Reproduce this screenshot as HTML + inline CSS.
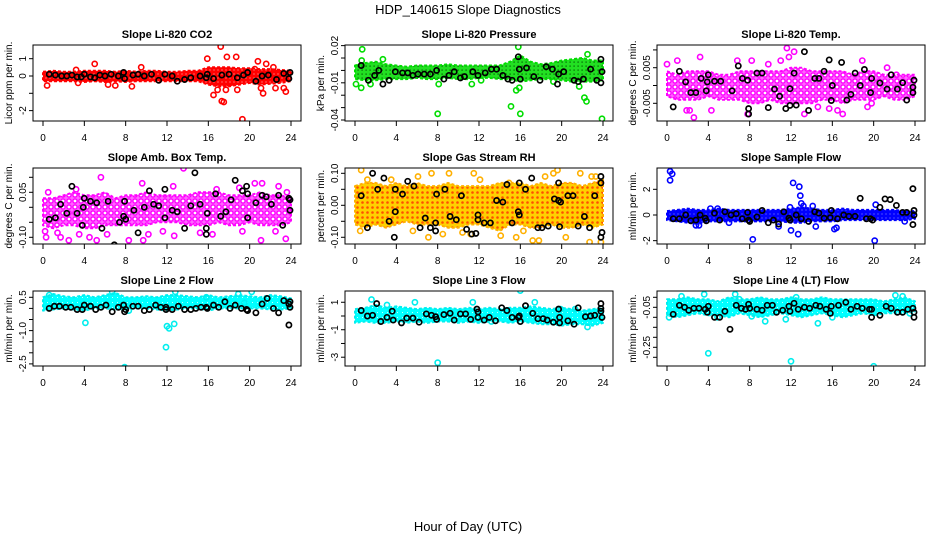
<!DOCTYPE html>
<html><head><meta charset="utf-8"><style>
html,body{margin:0;padding:0;background:#fff;}
svg{display:block;font-family:"Liberation Sans",Arial,sans-serif;}
</style></head><body>
<svg id="chart" width="936" height="540" viewBox="0 0 936 540" xmlns="http://www.w3.org/2000/svg">
<defs>
<pattern id="pat-red" width="4" height="4" patternUnits="userSpaceOnUse"><rect width="4" height="4" fill="#ff0000"/><rect x="1.5" y="1.5" width="1" height="1" fill="#ffc0c0"/></pattern>
<pattern id="pat-green" width="4" height="4" patternUnits="userSpaceOnUse"><rect width="4" height="4" fill="#22e022"/><rect x="1.5" y="1.5" width="1.2" height="1.2" fill="#005500"/></pattern>
<pattern id="pat-magenta" width="6" height="6" patternUnits="userSpaceOnUse"><rect width="6" height="6" fill="#ff66ff"/><circle cx="3" cy="3" r="2.1" fill="#fff" stroke="#ff00ff" stroke-width="1.4"/></pattern>
<pattern id="pat-orange" width="5" height="5" patternUnits="userSpaceOnUse"><rect width="5" height="5" fill="#ffd000"/><circle cx="2.5" cy="2.5" r="1.3" fill="#ff5000"/></pattern>
<pattern id="pat-blue" width="4" height="4" patternUnits="userSpaceOnUse"><rect width="4" height="4" fill="#0000ff"/><rect x="1.5" y="1.5" width="1" height="1" fill="#9090ff"/></pattern>
<pattern id="pat-cyan" width="5" height="5" patternUnits="userSpaceOnUse"><rect width="5" height="5" fill="#00ffff"/><rect x="2" y="2" width="1" height="1" fill="#c0ffff"/></pattern>
</defs>
<rect x="0" y="0" width="936" height="540" fill="#fff"/>
<text x="468" y="14" text-anchor="middle" font-size="13">HDP_140615  Slope Diagnostics</text>
<text x="468" y="531" text-anchor="middle" font-size="13">Hour of Day (UTC)</text>
</svg>
<script>
const hours = [0,1,2,3,4,5,6,7,8,9,10,11,12,13,14,15,16,17,18,19,20,21,22,23,24];
const xTicks = [0,4,8,12,16,20,24];
const xTickLabels = ["0","4","8","12","16","20","24"];

const co2Lo = [-0.3,-0.3,-0.3,-0.3,-0.35,-0.3,-0.35,-0.3,-0.35,-0.3,-0.3,-0.3,-0.3,-0.3,-0.3,-0.3,-0.5,-0.6,-0.6,-0.5,-0.4,-0.5,-0.45,-0.4,-0.3];
const co2Hi = [0.25,0.3,0.25,0.25,0.3,0.3,0.3,0.25,0.3,0.25,0.3,0.3,0.25,0.25,0.3,0.3,0.5,0.5,0.5,0.45,0.45,0.4,0.4,0.35,0.3];
const co2Out = [[0.4,-0.55],[3.2,0.35],[3.4,-0.4],[5,0.7],[6.3,-0.5],[7,-0.55],[8.6,-0.6],[9.5,0.5],[15.9,1.0],[16.5,-1.1],[17.2,1.7],[17.5,-1.5],[17.3,-1.45],[17.8,1.1],[18.7,1.1],[18.8,-0.8],[19.3,-2.5],[20.8,0.85],[21.3,-1.0],[21.6,0.7],[22.5,-0.7],[23.3,-0.7],[23.5,-0.9],[16.9,-0.8],[17.7,-0.8],[21.1,-0.7],[20.5,0.4],[22.3,0.5]];
const co2Black = [[0.6,0.1],[1.2,0.05],[1.8,0],[2.3,0],[2.8,0.05],[3.3,-0.05],[3.7,-0.05],[4,0.1],[4.6,-0.05],[5,-0.1],[5.5,0.05],[6,0],[6.6,0.1],[7.3,0],[7.8,0.2],[7.9,-0.15],[8.7,0.05],[9.2,0.1],[9.8,0],[10.5,0.1],[11.2,-0.25],[11.8,0.1],[12.5,0],[13,-0.3],[13.7,-0.2],[14.3,-0.1],[15.2,0],[15.8,-0.1],[15.9,0.1],[16.5,-0.15],[17.3,0.05],[18,0.1],[18.8,-0.1],[19.4,0.05],[19.8,0.2],[20.6,-0.3],[21.2,0],[21.8,0.05],[22.6,-0.2],[23.3,0.15],[23.9,0.2],[23.8,-0.15]];

const presLo = [-0.007,-0.008,-0.008,-0.007,-0.007,-0.007,-0.006,-0.007,-0.007,-0.006,-0.007,-0.007,-0.006,-0.006,-0.007,-0.007,-0.009,-0.008,-0.007,-0.007,-0.008,-0.009,-0.009,-0.009,-0.008];
const presHi = [0.004,0.006,0.007,0.005,0.004,0.003,0.004,0.004,0.004,0.005,0.004,0.004,0.004,0.004,0.004,0.007,0.012,0.007,0.005,0.006,0.008,0.009,0.01,0.008,0.008];
const presOut = [[0.1,-0.011],[0.6,-0.014],[0.7,0.017],[0.65,0.008],[1.5,-0.011],[2.7,0.009],[8,-0.035],[8.1,-0.011],[11.3,-0.011],[15.1,-0.029],[15.8,0.019],[15.6,-0.016],[16,-0.035],[15.9,-0.014],[22.2,-0.022],[22.4,-0.025],[22.5,0.013],[21.7,-0.013],[23.9,-0.039],[19.2,-0.009],[12.2,-0.008]];
const presBlack = [[0.6,0.004],[1.3,-0.008],[1.9,-0.004],[2.3,0],[2.7,-0.011],[3.3,-0.008],[3.9,-0.001],[4.6,-0.002],[5.1,-0.002],[5.6,-0.004],[6.1,-0.003],[6.7,-0.003],[7.3,-0.003],[7.9,0],[8.6,-0.007],[9.1,-0.004],[9.6,-0.001],[10.2,-0.006],[10.6,-0.005],[11.4,-0.001],[11.9,-0.004],[12.6,-0.002],[13.2,0.001],[13.7,0.001],[14.3,-0.004],[14.8,-0.007],[15.2,-0.008],[15.8,0.011],[15.9,0.001],[16,-0.007],[16.6,0.002],[17.3,-0.005],[17.9,-0.008],[18.5,0.003],[19.1,0.001],[19.6,-0.011],[19.7,-0.003],[20.2,-0.001],[21.2,-0.008],[21.6,-0.009],[22.1,-0.007],[22.8,0.001],[23.4,-0.008],[23.8,-0.01],[23.9,-0.001],[23.8,0.009]];

const tempLo = [-0.003,-0.004,-0.004,-0.004,-0.003,-0.004,-0.004,-0.004,-0.005,-0.005,-0.004,-0.005,-0.005,-0.005,-0.005,-0.004,-0.004,-0.005,-0.004,-0.004,-0.004,-0.003,-0.004,-0.004,-0.003];
const tempHi = [0.004,0.003,0.004,0.004,0.004,0.003,0.003,0.004,0.004,0.004,0.004,0.004,0.005,0.005,0.004,0.004,0.004,0.004,0.003,0.004,0.004,0.003,0.003,0.003,0.003];
const tempOut = [[0,0.006],[1,0.007],[1.9,-0.007],[2.2,-0.007],[2.6,-0.009],[3.2,0.008],[4.3,-0.007],[6.8,0.007],[8.2,0.007],[7.8,-0.008],[9.8,0.006],[11,0.007],[11.6,0.0105],[12.3,0.0095],[11.8,0.008],[13.3,-0.008],[15.7,-0.0065],[16.5,-0.007],[17,-0.008],[18.9,0.007],[19.4,-0.006],[19.8,-0.005],[21.3,0.005],[22.2,0.003],[14.6,-0.006]];
const tempBlack = [[0.6,-0.006],[1.2,0.004],[1.8,0.001],[2.3,-0.002],[2.8,-0.002],[3.3,0.002],[3.8,-0.0015],[3.9,0.001],[4.0,0.003],[4.6,0.0012],[5.2,0.0012],[6.3,-0.0015],[6.9,0.0055],[7.3,0.002],[7.8,0.0015],[7.9,-0.0065],[7.9,-0.008],[8.7,0.0035],[9.2,0.0035],[9.8,-0.0062],[10.4,-0.001],[10.9,-0.003],[11.5,-0.0065],[11.9,-0.0056],[11.9,-0.0009],[12.5,-0.0055],[12.3,0.0035],[13.3,0.0095],[13.7,-0.007],[14.3,0.002],[14.7,0.002],[15.2,0.004],[15.8,-0.0115],[15.9,-0.0042],[15.7,0.0072],[16.0,0],[16.9,0.0065],[17.4,-0.0041],[17.8,-0.0025],[18.2,0.0035],[18.7,0],[19.1,0.0045],[19.7,-0.002],[19.8,0.002],[20.6,0.0007],[21.3,-0.001],[21.7,0.003],[22.3,-0.001],[22.8,0.0008],[23.2,-0.0041],[23.8,-0.002],[23.9,0.0015],[23.8,-0.0005]];

const ambLo = [-0.06,-0.07,-0.06,-0.06,-0.07,-0.07,-0.06,-0.06,-0.06,-0.06,-0.06,-0.05,-0.05,-0.05,-0.06,-0.06,-0.06,-0.05,-0.06,-0.06,-0.05,-0.06,-0.06,-0.06,-0.05];
const ambHi = [0.03,0.03,0.04,0.05,0.04,0.04,0.05,0.03,0.04,0.04,0.05,0.04,0.04,0.04,0.04,0.05,0.05,0.05,0.04,0.04,0.04,0.05,0.04,0.04,0.03];
const ambOut = [[0.2,-0.08],[0.3,-0.1],[0.5,0.05],[1.4,-0.085],[1.7,-0.1],[2.5,-0.11],[3.2,0.06],[3.5,-0.09],[4.5,-0.1],[5.2,-0.11],[5.6,0.1],[6.2,-0.09],[7.2,-0.135],[8.3,-0.11],[9.7,-0.11],[9.6,0.08],[10.2,-0.09],[11.6,-0.08],[12.6,0.07],[12.7,-0.095],[13.6,0.13],[15.2,-0.085],[16.4,-0.09],[16.8,0.06],[19.3,-0.08],[20.5,0.08],[21.1,-0.11],[21.2,0.08],[21.4,-0.14],[22.5,-0.08],[22.8,0.07],[23.5,-0.105],[23.6,0.05],[19,0.065]];
const ambBlack = [[0.6,-0.04],[1.2,-0.035],[1.7,0.01],[2.3,-0.02],[2.8,0.07],[3.3,-0.02],[3.8,-0.06],[3.9,0],[4.0,0.03],[4.6,0.02],[5.2,0.015],[5.7,-0.07],[6.3,0.02],[6.9,-0.125],[7.4,-0.05],[7.8,-0.03],[7.9,0.02],[8,-0.04],[8.8,-0.01],[9.2,-0.085],[9.8,0],[10.3,0.055],[10.7,0.01],[11.2,0.005],[11.8,0.06],[11.8,-0.035],[12.5,-0.01],[13,-0.015],[13.7,-0.07],[14.3,0.005],[14.7,0.115],[15.2,0.01],[15.8,-0.07],[15.9,-0.02],[15.8,-0.09],[16.7,0.045],[17.2,-0.03],[17.7,-0.015],[18.2,0.025],[18.6,0.09],[19.3,0.055],[19.7,0.07],[19.8,0.045],[19.8,-0.035],[20.6,0.015],[21.2,0.04],[21.6,0.035],[22.1,0.01],[22.8,0.04],[23.2,-0.06],[23.8,0.03],[23.9,-0.01],[23.9,0.025]];

const rhLo = [-0.06,-0.07,-0.06,-0.07,-0.06,-0.05,-0.06,-0.06,-0.06,-0.07,-0.07,-0.06,-0.06,-0.07,-0.08,-0.06,-0.06,-0.07,-0.07,-0.06,-0.07,-0.07,-0.06,-0.07,-0.06];
const rhHi = [0.06,0.07,0.07,0.06,0.07,0.06,0.07,0.06,0.06,0.07,0.06,0.06,0.06,0.06,0.07,0.07,0.07,0.06,0.07,0.06,0.07,0.07,0.06,0.07,0.08];
const rhOut = [[0.6,0.11],[0.5,-0.08],[1.2,0.08],[3.5,0.08],[5.6,-0.08],[6.1,0.09],[7.1,-0.1],[7.4,0.1],[8.5,-0.09],[9.1,0.1],[10.4,-0.085],[11.2,-0.09],[11.5,0.1],[12.1,0.08],[14.1,-0.095],[14.9,0.07],[15.6,-0.1],[16.3,-0.08],[17.2,-0.11],[17.8,-0.11],[18.4,0.09],[19.2,0.1],[19.6,0.11],[20.4,-0.1],[21.8,0.1],[22.7,-0.115],[22.9,0.09],[23.3,0.09],[23.8,-0.115]];
const rhBlack = [[0.6,0.03],[1.2,-0.07],[1.7,0.1],[2.2,0.05],[2.8,0.085],[3.3,-0.05],[3.9,-0.02],[3.9,0.05],[3.8,-0.1],[4.6,0.035],[5.1,0.075],[5.7,0.06],[6.3,-0.07],[6.8,-0.04],[7.3,-0.07],[7.8,-0.055],[7.8,-0.08],[7.9,0.035],[8.7,0.05],[9.2,-0.035],[9.8,-0.045],[10.3,0.03],[10.8,-0.075],[11.3,-0.09],[11.7,-0.088],[11.9,-0.03],[11.9,-0.045],[12.5,-0.055],[13.1,-0.055],[13.7,0.015],[14.3,0.01],[14.7,0.065],[15.2,-0.055],[15.8,-0.02],[15.9,-0.03],[15.9,0.07],[16.5,0.05],[17.1,0.085],[17.7,-0.07],[18.1,-0.07],[18.7,-0.065],[19.3,0.02],[19.7,0.015],[19.7,0.07],[19.8,-0.067],[19.9,0.01],[20.6,0.03],[21.1,0.03],[21.6,-0.065],[22.2,-0.035],[22.7,-0.07],[23.2,0.03],[23.8,-0.1],[23.9,-0.085],[23.8,0.07],[23.8,0.09]];

const flowLo = [-0.4,-0.5,-0.6,-0.7,-0.5,-0.5,-0.5,-0.5,-0.5,-0.5,-0.5,-0.5,-0.6,-0.6,-0.5,-0.5,-0.5,-0.4,-0.4,-0.4,-0.4,-0.4,-0.4,-0.4,-0.3];
const flowHi = [0.3,0.4,0.5,0.4,0.4,0.5,0.4,0.4,0.4,0.4,0.4,0.4,0.5,0.6,0.5,0.4,0.4,0.5,0.4,0.4,0.4,0.4,0.4,0.3,0.3];
const flowOut = [[0.3,3.4],[0.5,3.2],[0.3,2.7],[2.8,-0.8],[3.1,-0.8],[4.2,0.5],[4.9,0.5],[6,-0.6],[8.3,-1.9],[10.8,-0.9],[11.9,0.6],[12,-1.2],[12.2,2.5],[12.7,-1.5],[12.8,2.2],[12.9,1.5],[13,0.9],[13.2,0.7],[14.1,0.7],[14.4,-0.9],[16.2,-1.1],[16.4,-1],[20.1,-2],[20.2,0.8],[23,-0.5]];
const flowBlack = [[0.6,-0.3],[1.2,-0.3],[1.8,0],[2.3,-0.45],[2.8,-0.4],[3.2,0],[3.7,-0.25],[3.8,-0.45],[4.6,0.15],[5.1,-0.4],[5.6,0.25],[6.2,0],[6.7,0.1],[7.3,-0.3],[7.8,0.2],[7.9,-0.4],[8,-0.5],[8.7,-0.15],[9.2,0.35],[9.8,-0.6],[10.3,-0.4],[10.8,-0.7],[11.3,0.25],[11.8,-0.25],[11.9,-0.4],[12.5,0],[13,-0.3],[13.7,-0.5],[14.3,0.25],[14.7,0.15],[15.2,-0.25],[15.9,0.35],[15.8,-0.2],[16.5,-0.3],[17.1,0],[17.6,-0.1],[18.2,-0.1],[18.7,1.3],[19.3,-0.3],[19.7,-0.3],[19.9,-0.4],[20.6,0.6],[21.1,1.25],[21.6,1.2],[22.2,0.75],[22.8,0.2],[23.2,0.2],[23.8,2.05],[23.8,-0.75],[23.9,0.35],[23.9,0]];

const l2Lo = [-0.1,-0.05,0,-0.05,-0.1,0,0,-0.05,-0.05,0,0,-0.05,-0.1,-0.05,0,0,-0.1,0,0,0,0,0,-0.05,-0.05,0];
const l2Hi = [0.5,0.65,0.55,0.5,0.6,0.5,0.6,0.7,0.5,0.5,0.55,0.5,0.6,0.6,0.55,0.5,0.6,0.5,0.55,0.6,0.55,0.5,0.6,0.55,0.45];
const l2Out = [[0.6,0.6],[4.1,-0.65],[6.7,0.75],[7.9,-2.65],[8.3,-0.1],[11.9,-1.75],[12,-0.8],[12.2,-0.9],[12.7,-0.7],[12.8,0.75],[15.8,0.5],[18.9,0.65],[19.5,0.25],[20.2,0.75]];
const l2Black = [[0.6,0],[1.1,0.1],[1.6,0.1],[2.2,0.05],[2.7,0.05],[3.3,-0.05],[3.8,-0.05],[4.0,0.15],[4.6,0.1],[5.1,-0.05],[5.6,0.05],[6.1,0.15],[6.7,-0.15],[7.3,0.05],[7.8,0.15],[7.9,-0.15],[8,-0.05],[8.7,0.1],[9.2,0.1],[9.8,-0.1],[10.3,-0.05],[10.9,0.15],[11.4,0.05],[11.9,0.05],[11.9,-0.05],[12.5,-0.05],[13.1,0.1],[13.7,-0.05],[14.3,-0.05],[14.8,0],[15.3,0.05],[15.8,0.05],[15.9,0],[16.5,0.15],[17,0.05],[17.6,0.3],[18.1,0],[18.6,0.15],[19.2,0],[19.7,-0.05],[19.8,-0.1],[20.6,-0.2],[21.2,0.2],[21.7,0.45],[22.3,0],[22.8,-0.2],[23.3,0.35],[23.8,-0.75],[23.9,0.3],[23.9,0.05],[23.8,0.2]];

const l3Lo = [-0.5,-0.4,-0.5,-0.5,-0.4,-0.5,-0.4,-0.5,-0.4,-0.4,-0.5,-0.4,-0.5,-0.4,-0.4,-0.5,-0.4,-0.5,-0.6,-0.6,-0.7,-0.6,-0.6,-0.7,-0.5];
const l3Hi = [0.5,0.6,0.8,0.6,0.7,0.6,0.5,0.6,0.5,0.6,0.5,0.6,0.5,0.6,0.5,0.6,0.6,0.7,0.6,0.5,0.6,0.5,0.4,0.5,0.6];
const l3Out = [[1.6,1.2],[3.1,0.8],[5.8,1],[8,-3.4],[11.4,1.0],[16,1.85],[17.4,1.0],[19.9,0.5],[22.5,-0.8],[21.3,0.5],[13.2,-0.4]];
const l3Black = [[0.6,0.4],[1.2,0],[1.7,0.05],[2.1,0.9],[2.5,-0.4],[3.1,-0.1],[3.6,0.35],[3.7,-0.3],[4.5,-0.5],[5,-0.15],[5.6,-0.15],[6.2,-0.45],[6.9,0.15],[7.4,0.05],[7.8,-0.05],[7.9,-0.25],[8.6,0.1],[9.2,0.2],[9.6,-0.3],[10.2,0.15],[10.7,0.15],[11.2,-0.25],[11.8,0.5],[11.9,0.3],[11.9,-0.1],[12.5,-0.3],[13,-0.1],[13.6,-0.35],[14.2,0.6],[14.7,0.4],[15.2,-0.1],[15.8,-0.1],[15.9,0],[16,-0.4],[16.5,0.75],[17.2,0.2],[17.7,-0.2],[18.2,-0.2],[18.6,-0.3],[19.2,-0.45],[19.7,0.5],[19.8,-0.1],[19.8,-0.5],[20.6,-0.35],[21.2,-0.6],[21.6,0.6],[22.3,-0.05],[22.8,0],[23.2,0.05],[23.8,0.9],[23.8,0.55],[23.9,-0.1],[23.8,0.35]];

const l4Lo = [-0.09,-0.1,-0.09,-0.08,-0.09,-0.09,-0.1,-0.08,-0.09,-0.1,-0.09,-0.08,-0.09,-0.1,-0.09,-0.08,-0.09,-0.1,-0.09,-0.08,-0.09,-0.08,-0.08,-0.08,-0.07];
const l4Hi = [-0.01,-0.01,0,-0.01,-0.01,-0.02,0,-0.01,-0.01,0,-0.01,-0.01,0,-0.01,-0.01,0,-0.01,-0.01,-0.01,-0.01,-0.01,-0.02,-0.01,0,-0.02];
const l4Out = [[0.2,-0.1],[1.4,0.005],[3.6,0.015],[4,-0.28],[4.9,-0.1],[6.6,0.015],[7,-0.01],[9.5,-0.12],[11.5,-0.11],[12,-0.32],[12.5,0],[14.6,-0.13],[16,-0.1],[20,-0.345],[22.1,0.01],[22.8,0.005],[23.5,-0.08],[8.2,-0.095]];
const l4Black = [[0.6,-0.085],[1.2,-0.04],[1.7,-0.05],[2.1,-0.065],[2.6,-0.055],[3.1,-0.055],[3.7,-0.06],[3.9,-0.075],[4,-0.045],[4.6,-0.1],[5.1,-0.1],[5.6,-0.07],[6.1,-0.16],[6.7,-0.04],[7.2,-0.055],[7.6,-0.06],[7.9,-0.035],[8,-0.055],[8.7,-0.06],[9.2,-0.065],[9.7,-0.04],[10.2,-0.04],[10.6,-0.075],[11.2,-0.065],[11.8,-0.045],[11.9,-0.07],[12.3,-0.03],[12.7,-0.06],[13.3,-0.05],[13.8,-0.055],[14.4,-0.04],[14.8,-0.045],[15.4,-0.06],[15.8,-0.08],[15.9,-0.045],[16.6,-0.04],[17.3,-0.025],[17.8,-0.06],[18.4,-0.045],[18.9,-0.055],[19.6,-0.06],[19.8,-0.1],[19.8,-0.06],[20.6,-0.09],[21.2,-0.045],[21.7,-0.055],[22.3,-0.075],[22.8,-0.075],[23.3,-0.06],[23.8,-0.055],[23.9,-0.075],[23.9,-0.1]];

const co2YTicks = [-2,-1,0,1];            const co2YLabels = ["-2","","0","1"];
const presYTicks = [-0.04,-0.03,-0.02,-0.01,0,0.01,0.02]; const presYLabels = ["-0.04","","","-0.01","","","0.02"];
const tempYTicks = [-0.005,0,0.005,0.01];  const tempYLabels = ["-0.005","","0.005",""];
const ambYTicks = [-0.1,-0.05,0,0.05,0.1]; const ambYLabels = ["-0.10","","","0.05",""];
const rhYTicks = [-0.1,-0.05,0,0.05,0.1];  const rhYLabels = ["-0.10","","0.00","","0.10"];
const flowYTicks = [-2,0,2];              const flowYLabels = ["-2","0","2"];
const l2YTicks = [-2.5,-2,-1.5,-1,-0.5,0,0.5]; const l2YLabels = ["-2.5","","","-1.0","","","0.5"];
const l3YTicks = [-3,-2,-1,0,1];          const l3YLabels = ["-3","","-1","","1"];
const l4YTicks = [-0.3,-0.25,-0.2,-0.15,-0.1,-0.05,0]; const l4YLabels = ["","-0.25","","","","-0.05",""];

const NS = "http://www.w3.org/2000/svg";
const svg = document.getElementById('chart');
function mk(tag, attrs, parent){ const e=document.createElementNS(NS,tag); for(const k in attrs) e.setAttribute(k,attrs[k]); (parent||svg).appendChild(e); return e; }

const panels = [
 {key:'co2', title:'Slope Li-820 CO2', ylab:'Licor ppm per min.', col:0,row:0, dom:[-2.60,1.79], lo:co2Lo,hi:co2Hi,out:co2Out,blk:co2Black,yt:co2YTicks,yl:co2YLabels, color:'#ff0000', pat:'pat-red'},
 {key:'pressure', title:'Slope Li-820 Pressure', ylab:'kPa per min.', col:1,row:0, dom:[-0.0408,0.0205], lo:presLo,hi:presHi,out:presOut,blk:presBlack,yt:presYTicks,yl:presYLabels, color:'#00dd00', pat:'pat-green'},
 {key:'temp', title:'Slope Li-820 Temp.', ylab:'degrees C per min.', col:2,row:0, dom:[-0.00997,0.01138], lo:tempLo,hi:tempHi,out:tempOut,blk:tempBlack,yt:tempYTicks,yl:tempYLabels, color:'#ff00ff', pat:'pat-magenta'},
 {key:'amb-temp', title:'Slope Amb. Box Temp.', ylab:'degrees C per min.', col:0,row:1, dom:[-0.1223,0.131], lo:ambLo,hi:ambHi,out:ambOut,blk:ambBlack,yt:ambYTicks,yl:ambYLabels, color:'#ff00ff', pat:'pat-magenta'},
 {key:'rh', title:'Slope Gas Stream RH', ylab:'percent per min.', col:1,row:1, dom:[-0.121,0.1166], lo:rhLo,hi:rhHi,out:rhOut,blk:rhBlack,yt:rhYTicks,yl:rhYLabels, color:'#ffb000', pat:'pat-orange'},
 {key:'sample-flow', title:'Slope Sample Flow', ylab:'ml/min per min.', col:2,row:1, dom:[-2.26,3.66], lo:flowLo,hi:flowHi,out:flowOut,blk:flowBlack,yt:flowYTicks,yl:flowYLabels, color:'#0000ff', pat:'pat-blue'},
 {key:'line2', title:'Slope Line 2 Flow', ylab:'ml/min per min.', col:0,row:2, dom:[-2.595,0.784], lo:l2Lo,hi:l2Hi,out:l2Out,blk:l2Black,yt:l2YTicks,yl:l2YLabels, color:'#00eeee', pat:'pat-cyan'},
 {key:'line3', title:'Slope Line 3 Flow', ylab:'ml/min per min.', col:1,row:2, dom:[-3.64,1.82], lo:l3Lo,hi:l3Hi,out:l3Out,blk:l3Black,yt:l3YTicks,yl:l3YLabels, color:'#00eeee', pat:'pat-cyan'},
 {key:'line4', title:'Slope Line 4 (LT) Flow', ylab:'ml/min per min.', col:2,row:2, dom:[-0.3435,0.0315], lo:l4Lo,hi:l4Hi,out:l4Out,blk:l4Black,yt:l4YTicks,yl:l4YLabels, color:'#00eeee', pat:'pat-cyan'}
];
const colX0 = [43,355,667];
const rowY = [[45,121],[168,244],[291,366]];

panels.forEach(p=>{
  const t0 = colX0[p.col], bx0 = t0-10, bx1 = t0+258;
  const [by0, by1] = rowY[p.row];
  const xs = h => t0 + h*(248/24);
  const ys = v => by0 + (p.dom[1]-v)/(p.dom[1]-p.dom[0])*(by1-by0);
  const g = mk('g',{});
  
  
  const clipId = 'clip-'+p.key;
  const cp = mk('clipPath',{id:clipId}, g);
  mk('rect',{x:bx0,y:by0,width:bx1-bx0,height:by1-by0}, cp);
  const pg = mk('g',{'clip-path':'url(#'+clipId+')'}, g);
  let d = '';
  hours.forEach((h,i)=>{ d += (i?'L':'M')+xs(h).toFixed(1)+','+ys(p.hi[i]).toFixed(1); });
  for(let i=hours.length-1;i>=0;i--){ d += 'L'+xs(hours[i]).toFixed(1)+','+ys(p.lo[i]).toFixed(1); }
  d += 'Z';
  const band = mk('path',{d:d, fill:'url(#'+p.pat+')', stroke:p.color, 'stroke-width':2, 'stroke-dasharray':'3 2', 'stroke-linejoin':'round'}, pg);
  
  
  p.out.forEach(pt=>{
    const c = mk('circle',{cx:xs(pt[0]).toFixed(1), cy:ys(pt[1]).toFixed(1), r:2.6, fill:'none', stroke:p.color, 'stroke-width':1.6}, pg);
    
    
  });
  p.blk.forEach(pt=>{
    const c = mk('circle',{cx:xs(pt[0]).toFixed(1), cy:ys(pt[1]).toFixed(1), r:2.6, fill:'none', stroke:'#000', 'stroke-width':1.7}, pg);
    
    
  });
  const box = mk('rect',{x:bx0,y:by0,width:bx1-bx0,height:by1-by0,fill:'none',stroke:'#000','stroke-width':1}, g);
  
  
  const tt = mk('text',{x:(bx0+bx1)/2, y:by0-7, 'text-anchor':'middle','font-size':11,'font-weight':'bold'}, g);
  tt.textContent = p.title;
  
  
  xTicks.forEach((h,i)=>{
    const x = xs(h);
    const tk = mk('line',{x1:x,x2:x,y1:by1,y2:by1+5,stroke:'#000','stroke-width':1}, g);
    
    
    const tl = mk('text',{x:x,y:by1+20,'text-anchor':'middle','font-size':10}, g);
    tl.textContent = xTickLabels[i];
    
    
  });
  p.yt.forEach((v,i)=>{
    const y = ys(v);
    const tk = mk('line',{x1:bx0-4,x2:bx0,y1:y,y2:y,stroke:'#000','stroke-width':1}, g);
    
    
    if(p.yl[i]){
      const tl = mk('text',{x:bx0-7,y:y,'text-anchor':'middle','font-size':10,transform:'rotate(-90 '+(bx0-7)+' '+y.toFixed(1)+')'}, g);
      tl.textContent = p.yl[i];
      
      
    }
  });
  const yc = (by0+by1)/2;
  const yl = mk('text',{x:bx0-21,y:yc,'text-anchor':'middle','font-size':10,transform:'rotate(-90 '+(bx0-21)+' '+yc+')'}, g);
  yl.textContent = p.ylab;
  
  
});
</script>
</body></html>
